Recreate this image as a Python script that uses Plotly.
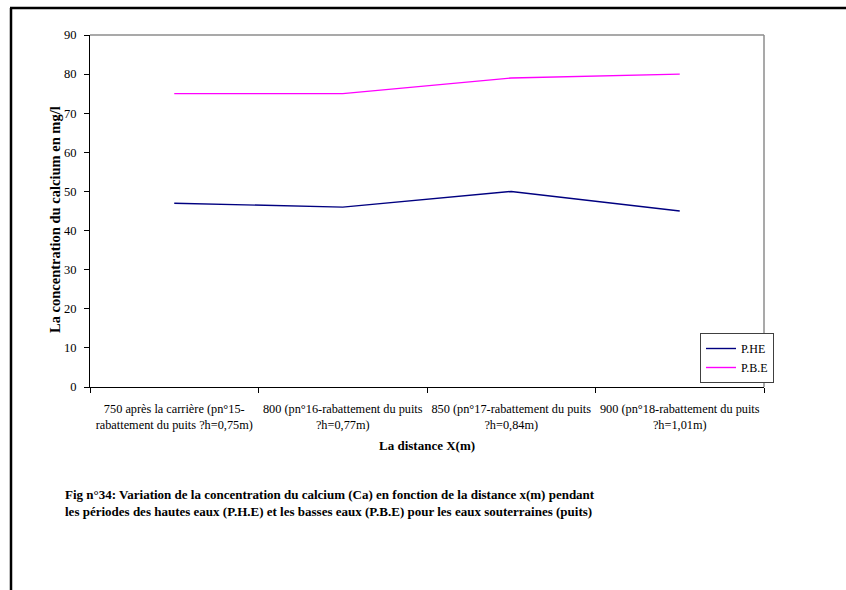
import plotly.graph_objects as go

# Distances / wells along the transect
categories = [
    "750 après la carrière (pn°15-<br>rabattement du puits ?h=0,75m)",
    "800 (pn°16-rabattement du puits<br>?h=0,77m)",
    "850 (pn°17-rabattement du puits<br>?h=0,84m)",
    "900 (pn°18-rabattement du puits<br>?h=1,01m)",
]
# Calcium concentration (mg/l)
phe_values = [47, 46, 50, 45]   # hautes eaux
pbe_values = [75, 75, 79, 80]   # basses eaux
y_ticks = [0, 10, 20, 30, 40, 50, 60, 70, 80, 90]

W, H = 846, 590
L, R, T, B = 90, 764, 35, 387
FONT = "'Liberation Serif', 'Times New Roman', serif"

fig = go.Figure()
fig.add_trace(go.Scatter(x=categories, y=phe_values, mode="lines", name="P.HE",
                         line=dict(color="#000080", width=1.4)))
fig.add_trace(go.Scatter(x=categories, y=pbe_values, mode="lines", name="P.B.E",
                         line=dict(color="#FF00FF", width=1.4)))


def px(x):
    return (x - L) / (R - L)


def py(y):
    return (B - y) / (B - T)


fig.update_layout(
    width=W, height=H,
    margin=dict(l=L, r=W - R, t=T, b=H - B, pad=0),
    paper_bgcolor="white", plot_bgcolor="white",
    font=dict(family=FONT, size=12, color="black"),
    showlegend=True,
    legend=dict(x=px(700), y=py(333), xanchor="left", yanchor="top",
                bgcolor="white", bordercolor="#404040", borderwidth=1,
                font=dict(family=FONT, size=12, color="black"),
                tracegroupgap=0, itemwidth=30),
    xaxis=dict(type="category", range=[-0.5, 3.5], tickson="boundaries",
               ticks="outside", ticklen=5, tickcolor="black", tickangle=0,
               showline=True, linecolor="black", linewidth=1,
               showgrid=False, zeroline=False, ticklabelstandoff=10,
               tickfont=dict(family=FONT, size=12.3)),
    yaxis=dict(range=[0, 90], tickvals=y_ticks, ticks="outside", ticklen=5,
               tickcolor="black", showline=True, linecolor="black", linewidth=1,
               showgrid=False, zeroline=False, ticklabelstandoff=5,
               tickfont=dict(family=FONT, size=12.5)),
)

# Axis titles
fig.add_annotation(text="<b>La distance X(m)</b>", xref="paper", yref="paper",
                   x=px(427), y=py(445), xanchor="center", yanchor="middle",
                   showarrow=False, font=dict(family=FONT, size=13))
fig.add_annotation(text="<b>La concentration du calcium en mg/l</b>",
                   xref="paper", yref="paper", textangle=-90,
                   x=px(55), y=py(220), xanchor="center", yanchor="middle",
                   showarrow=False, font=dict(family=FONT, size=14.5))

# Plot-area border (top and right in grey)
fig.add_shape(type="line", xref="paper", yref="paper", x0=0, x1=1, y0=1, y1=1,
              line=dict(color="#8c8c8c", width=1.5))
fig.add_shape(type="line", xref="paper", yref="paper", x0=1, x1=1, y0=0, y1=1,
              line=dict(color="#8c8c8c", width=1.5))

# Outer page frame (top and left edges)
fig.add_shape(type="line", xref="paper", yref="paper",
              x0=px(10), x1=px(846), y0=py(8), y1=py(8),
              line=dict(color="black", width=2.5))
fig.add_shape(type="line", xref="paper", yref="paper",
              x0=px(11), x1=px(11), y0=py(8), y1=py(592),
              line=dict(color="black", width=2.5))

# Figure caption
caption = [
    "Fig n°34: Variation de la concentration du calcium (Ca) en fonction de la distance x(m) pendant",
    "les périodes des hautes eaux (P.H.E) et les basses eaux (P.B.E) pour les eaux souterraines (puits)",
]
for i, line in enumerate(caption):
    fig.add_annotation(text=f"<b>{line}</b>", xref="paper", yref="paper",
                       x=px(63), y=py(494 + 18 * i), xanchor="left", yanchor="middle",
                       showarrow=False, font=dict(family=FONT, size=13, color="black"))

fig.write_html("out.html")
